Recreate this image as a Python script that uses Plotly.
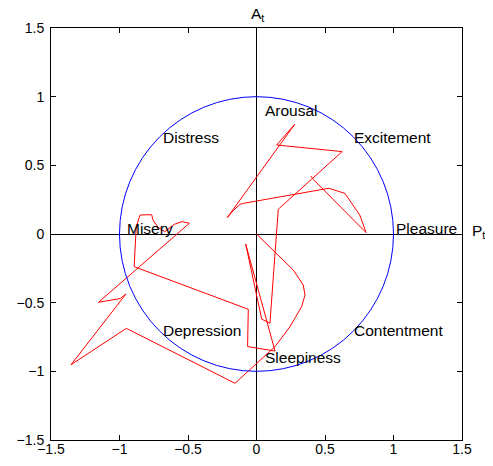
import plotly.graph_objects as go

# Trajectory in the pleasure (P_t) / arousal (A_t) plane
traj_p = [0.0, 0.147, 0.268, 0.341, 0.354, 0.329, 0.244, 0.135, -0.047, -0.157,
          -0.95, -1.354, -0.953, -0.995, -1.153,
          -0.49, -0.545, -0.60, -0.67, -0.72, -0.755, -0.765, -0.80, -0.85, -0.878, -0.893,
          -0.06, -0.065, 0.135, -0.079, 0.038, 0.098, 0.159,
          0.625, 0.147, 0.28, -0.214, -0.17, -0.12, -0.096,
          0.528, 0.645, 0.754, 0.80, 0.414, 0.397]
traj_a = [0.0, -0.14, -0.262, -0.371, -0.444, -0.53, -0.675, -0.82, -0.99, -1.087,
          -0.687, -0.952, -0.437, -0.47, -0.497,
          0.078, 0.09, 0.07, 0.017, 0.05, 0.10, 0.14, 0.14, 0.138, 0.053, -0.238,
          -0.548, -0.82, -0.852, -0.073, -0.62, -0.65, 0.18,
          0.60, 0.648, 0.80, 0.119, 0.17, 0.216, 0.223,
          0.333, 0.296, 0.138, 0.01, 0.398, 0.422]

# Emotion labels and their anchor points
emotions = ["Arousal", "Excitement", "Pleasure", "Contentment",
            "Sleepiness", "Depression", "Misery", "Distress"]
emo_p = [0.05, 0.70, 1.00, 0.70, 0.05, -0.70, -0.96, -0.70]
emo_a = [0.90, 0.70, 0.04, -0.70, -0.90, -0.70, 0.04, 0.70]

tick_vals = [-1.5, -1, -0.5, 0, 0.5, 1, 1.5]
tick_text = ["\u22121.5", "\u22121", "\u22120.5", "0", "0.5", "1", "1.5"]
AX_MIN, AX_MAX = -1.5, 1.5
RADIUS = 1.0

FONT = "Liberation Sans, Arial, Helvetica, sans-serif"


def to_paper(v):
    return (v - AX_MIN) / (AX_MAX - AX_MIN)


fig = go.Figure()
fig.add_shape(type="circle", xref="x", yref="y",
              x0=-RADIUS, y0=-RADIUS, x1=RADIUS, y1=RADIUS,
              line=dict(color="#0000ff", width=1), layer="above")
fig.add_trace(go.Scatter(x=traj_p, y=traj_a, mode="lines",
                         line=dict(color="#ff0000", width=1), showlegend=False,
                         hoverinfo="skip"))

for name, px, py in zip(emotions, emo_p, emo_a):
    fig.add_annotation(x=px, y=py, xref="x", yref="y", text=name, showarrow=False,
                       xanchor="left", yanchor="middle",
                       font=dict(family=FONT, size=15.5, color="#000000"))

# Axis names placed just outside the data range (paper coordinates)
fig.add_annotation(x=to_paper(0.01), y=to_paper(1.6), xref="paper", yref="paper",
                   text="A<sub>t</sub>", showarrow=False,
                   xanchor="center", yanchor="middle",
                   font=dict(family=FONT, size=15.5, color="#000000"))
fig.add_annotation(x=to_paper(1.555), y=to_paper(0.02), xref="paper", yref="paper",
                   text="P<sub>t</sub>", showarrow=False,
                   xanchor="left", yanchor="middle",
                   font=dict(family=FONT, size=15.5, color="#000000"))

axis_common = dict(range=[AX_MIN, AX_MAX], tickvals=tick_vals, ticktext=tick_text,
                   ticks="inside", ticklen=5, tickcolor="#000000", tickwidth=1,
                   showline=True, linecolor="#000000", linewidth=1, mirror="ticks",
                   showgrid=False, zeroline=True, zerolinecolor="#000000", zerolinewidth=1,
                   tickfont=dict(family=FONT, size=14, color="#000000"),
                   automargin=False, fixedrange=True)

fig.update_xaxes(**axis_common, ticklabelstandoff=-4)
fig.update_yaxes(**axis_common, ticklabelstandoff=3)

fig.update_layout(width=485, height=458,
                  margin=dict(l=43, r=31, t=20, b=26),
                  plot_bgcolor="#ffffff", paper_bgcolor="#ffffff",
                  showlegend=False)

fig.write_html("out.html")
